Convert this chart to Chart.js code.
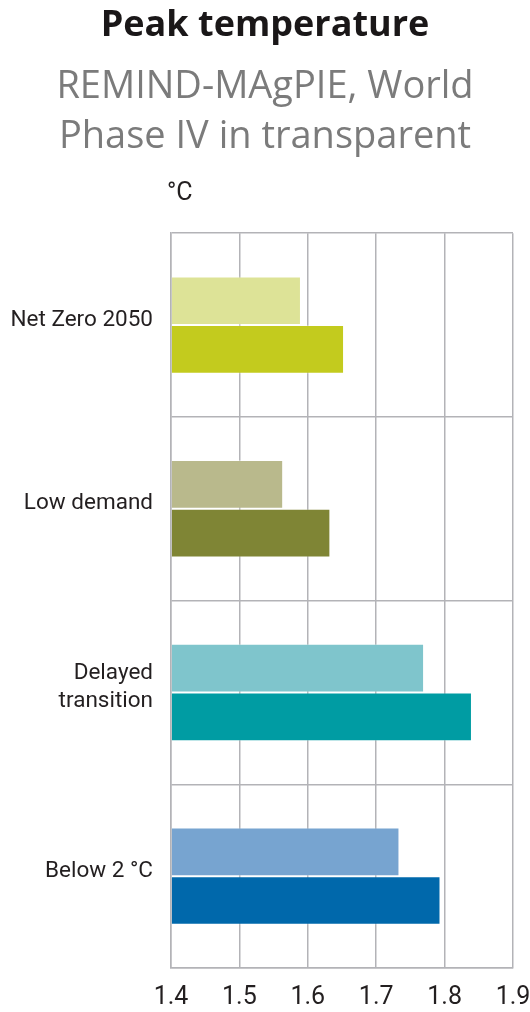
<!DOCTYPE html>
<html>
<head>
<meta charset="utf-8">
<script src="https://cdn.jsdelivr.net/npm/chart.js@4.4.1/dist/chart.umd.min.js"></script>
<style>
html,body{margin:0;padding:0;background:#fff;}
#wrap{width:530px;height:1012px;position:relative;}
</style>
</head>
<body>
<div id="wrap"><canvas id="c" width="530" height="1012"></canvas></div>
<script>
const categories = ['Net Zero 2050', 'Low demand', ['Delayed', 'transition'], 'Below 2 °C'];
const phaseIV = [1.59, 1.564, 1.77, 1.734];
const phaseV = [1.653, 1.633, 1.84, 1.794];
const xTickLabels = ['1.4', '1.5', '1.6', '1.7', '1.8', '1.9'];
const phaseIVColors = ['#dde397', '#b9b98c', '#7fc5cc', '#77a4d0'];
const phaseVColors = ['#c3cb1e', '#7f8535', '#009ca3', '#0068ab'];
const titleText = 'Peak temperature';
const subtitleText = ['REMIND-MAgPIE, World', 'Phase IV in transparent'];
const unitText = '°C';

const narrow = "'Liberation Sans Narrow', 'Roboto', sans-serif";
const xMin = parseFloat(xTickLabels[0]);
const xMax = parseFloat(xTickLabels[xTickLabels.length - 1]);
const gridColor = '#b3b3b7';

const unitPlugin = {
  id: 'unitLabel',
  afterDraw(chart) {
    const ctx = chart.ctx;
    const a = chart.chartArea;
    ctx.save();
    ctx.font = "25px " + narrow;
    ctx.fillStyle = '#231f20';
    ctx.textAlign = 'left';
    ctx.textBaseline = 'alphabetic';
    ctx.fillText(unitText, a.left - 4, a.top - 33);
    ctx.restore();
  }
};

new Chart(document.getElementById('c'), {
  type: 'bar',
  data: {
    labels: categories,
    datasets: [
      {
        label: 'Phase IV',
        data: phaseIV,
        backgroundColor: phaseIVColors,
        borderColor: 'rgba(255,255,255,0.35)',
        borderWidth: 1,
        base: xMin,
        categoryPercentage: 0.53,
        barPercentage: 1.0
      },
      {
        label: 'Phase V',
        data: phaseV,
        backgroundColor: phaseVColors,
        borderColor: 'rgba(255,255,255,0.3)',
        borderWidth: 1,
        base: xMin,
        categoryPercentage: 0.53,
        barPercentage: 1.0
      }
    ]
  },
  options: {
    indexAxis: 'y',
    responsive: false,
    animation: false,
    devicePixelRatio: 1,
    layout: { padding: 0 },
    plugins: {
      legend: { display: false },
      tooltip: { enabled: false },
      title: {
        display: true,
        text: titleText,
        color: '#1a1718',
        font: { family: "'Open Sans', sans-serif", size: 36, weight: 'bold', lineHeight: 1.2 },
        padding: { top: 4, bottom: 0 }
      },
      subtitle: {
        display: true,
        text: subtitleText,
        color: '#7b7b7b',
        font: { family: "'Open Sans', sans-serif", size: 38, weight: 'normal', lineHeight: 1.316 },
        padding: { top: 15, bottom: 71 }
      }
    },
    scales: {
      x: {
        type: 'linear',
        min: xMin,
        max: xMax,
        ticks: {
          stepSize: 0.1,
          color: '#231f20',
          font: { family: narrow, size: 25 },
          padding: 15,
          callback: (v, i) => xTickLabels[i]
        },
        grid: { color: gridColor, lineWidth: 1.5, drawTicks: false },
        border: { color: gridColor, width: 1.5 },
        afterFit(scale) {
          scale.height = 44;
          scale.paddingLeft = 0;
          scale.paddingRight = 17;
        }
      },
      y: {
        ticks: {
          color: '#231f20',
          font: { family: narrow, size: 22.5, lineHeight: 1.25 },
          padding: 18,
          labelOffset: -5
        },
        grid: { color: gridColor, lineWidth: 1.5, drawTicks: false, offset: true },
        border: { color: gridColor, width: 1.5 },
        afterFit(scale) {
          scale.width = 171;
          scale.paddingTop = 0;
          scale.paddingBottom = 0;
        }
      }
    }
  },
  plugins: [unitPlugin]
});
</script>
</body>
</html>
